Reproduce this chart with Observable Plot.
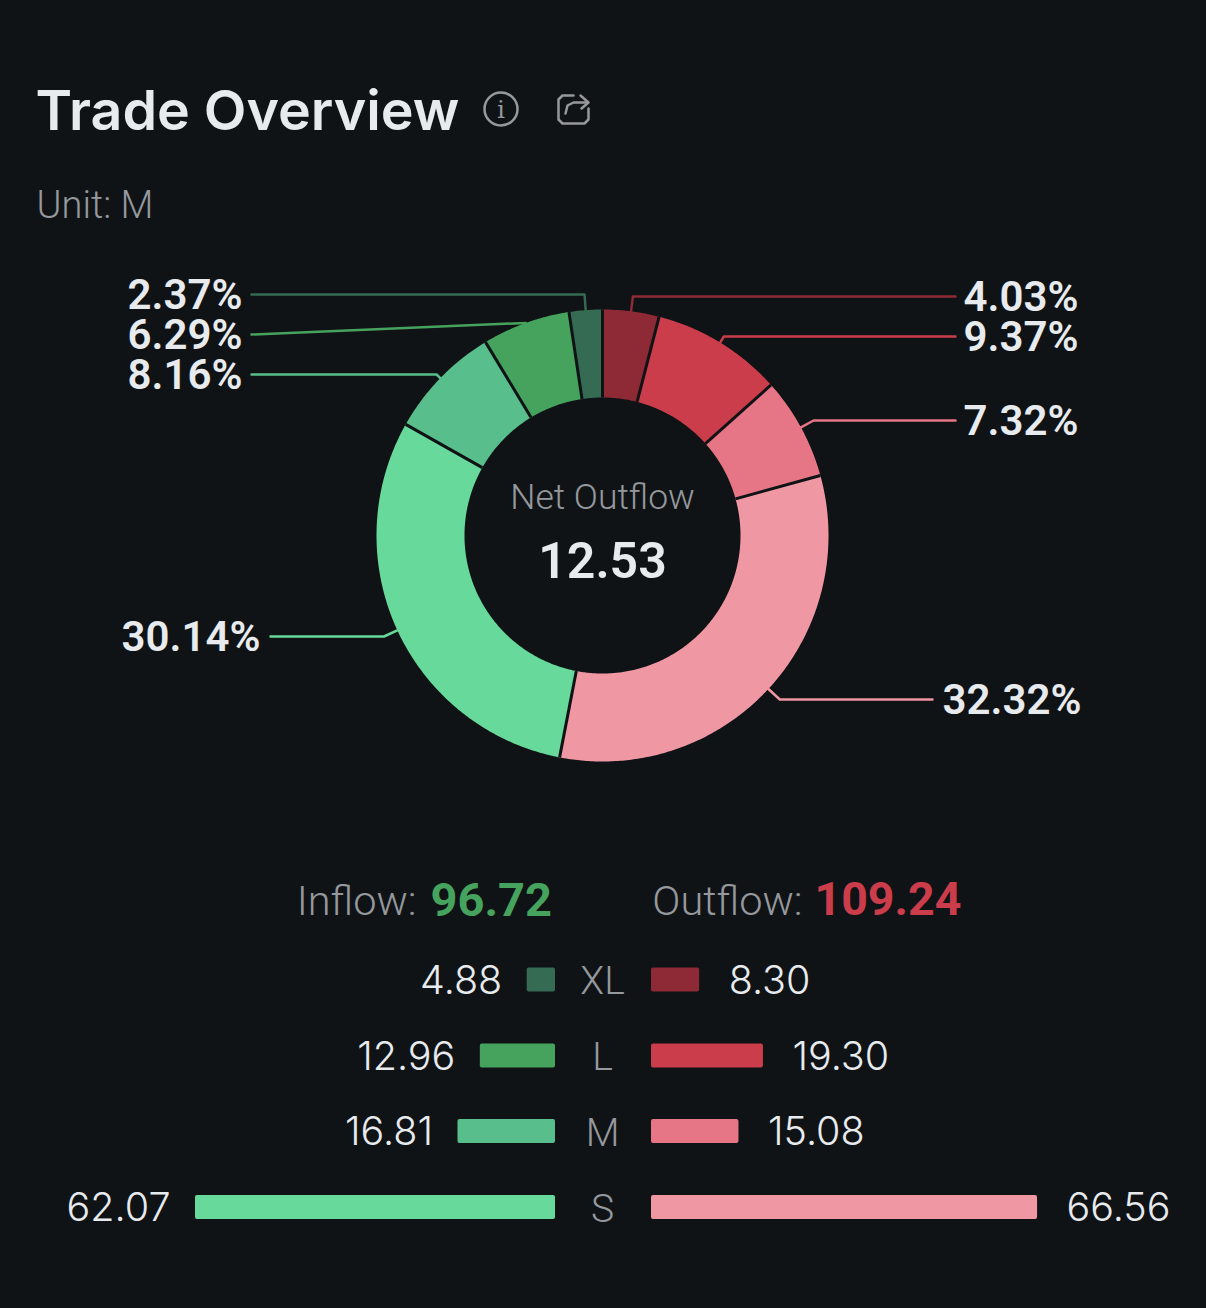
<!DOCTYPE html>
<html>
<head>
<meta charset="utf-8">
<script src="https://cdn.jsdelivr.net/npm/d3@7"></script>
<script src="https://cdn.jsdelivr.net/npm/@observablehq/plot@0.6"></script>
<style>
html,body{margin:0;padding:0;background:#101316}
svg{display:block}
</style>
</head>
<body>
<div id="chart"></div>
<script>
// ---- data ----
const sizes = ["XL","L","M","S"];
const inflowValues = [4.88,12.96,16.81,62.07];
const outflowValues = [8.30,19.30,15.08,66.56];
const sliceLabels = ["4.03%","9.37%","7.32%","32.32%","30.14%","8.16%","6.29%","2.37%"];
const sliceShares = [4.03,9.37,7.32,32.32,30.14,8.16,6.29,2.37];
const sliceColors = ["#8e2a35","#cc3d4c","#e67585","#f097a4","#66d99b","#58bf8c","#46a35d","#356b52"];
const inflowColors = ["#356b52","#46a35d","#58bf8c","#66d99b"];
const outflowColors = ["#8e2a35","#cc3d4c","#e67585","#f097a4"];
const totalInflow = "96.72", totalOutflow = "109.24", netOutflow = "12.53";

// ---- layout (pixels of the page, converted into the plot's value space) ----
const W = 1206, H = 1308, cx = 602, cy = 535, k = 5.8;
const X = p => (p - cx) / k, Y = p => (cy - p) / k;
const R = 226 / k, r0 = 138 / k;
const BG = "#101316", WHITE = "#e8ebee", GREY = "#95989c";
const NUM = "Roboto", HEAD = "Inter";
const labelY = [296,336,420,699,636,374,334,294];
const lineEnd = [955,955,955,932,270,251,251,251];
const labelX = [963,963,963,942,260,242,242,242];
const straight = [false,false,false,false,false,false,true,false];
const rowY = [979.5,1055.5,1131,1207];
const rowH = 24, gapL = 47 / k, gapR = 49 / k;

// ---- donut geometry derived from the values ----
const total = d3.sum(sliceShares);
let acc = 0;
const slices = sliceShares.map((v,i) => {
  const a0 = acc / total * 2 * Math.PI; acc += v;
  const a1 = acc / total * 2 * Math.PI;
  return {i, a0, a1, mid:(a0+a1)/2};
});
const polar = (a, rad) => [rad*Math.sin(a), rad*Math.cos(a)];
const ring = slices.flatMap(s => {
  const n = Math.max(8, Math.ceil((s.a1-s.a0)/0.01));
  const as = d3.range(n+1).map(j => s.a0 + (s.a1-s.a0)*j/n);
  return [...as.map(a => polar(a,R)), ...as.reverse().map(a => polar(a,r0))]
    .map(([x,y]) => ({x,y,i:s.i}));
});
const dividers = slices.map(s => {
  const [x1,y1] = polar(s.a0,r0), [x2,y2] = polar(s.a0,R);
  return {x1,y1,x2,y2};
});
const leaders = slices.flatMap(s => {
  const i = s.i, [ax,ay] = polar(s.mid,R), ly = Y(labelY[i]);
  const pts = [[ax,ay]];
  if (!straight[i]) pts.push([ly*Math.tan(s.mid), ly]);
  pts.push([X(lineEnd[i]), ly]);
  return pts.map(([x,y]) => ({x,y,i}));
});
const pctLabels = slices.map(s => ({x:X(labelX[s.i]), y:Y(labelY[s.i]), t:sliceLabels[s.i], right:labelX[s.i] > cx}));
const pctStyle = {x:"x",y:"y",text:"t",lineAnchor:"middle",fontFamily:NUM,fontSize:42,fontWeight:600,fill:WHITE,dy:1};

// ---- rows ----
const rows = sizes.map((s,i) => ({s,i,y1:Y(rowY[i]-rowH/2),y2:Y(rowY[i]+rowH/2),y:Y(rowY[i]),inV:inflowValues[i],outV:outflowValues[i]}));
const numGapL = 25 / k, numGapR = 29 / k;

// ---- small icons ----
const shareIcon = [
  [[573,95],[562,95],[558,99],[558,119],[562,123],[584,123],[588,119],[588,108]],
  [[565,113],[567,105],[573,102],[587,102]],
  [[580,95],[588,102],[581,108]]
].flatMap((p,g) => p.map(([x,y]) => ({x:X(x),y:Y(y),g})));

const T = (txt,px,py,o) => Plot.text([txt],{x:()=>X(px),y:()=>Y(py),text:d=>d,lineAnchor:"middle",...o});

const plot = Plot.plot({
  width:W, height:H, margin:0,
  style:{background:BG},
  x:{domain:[X(0),X(W)],range:[0,W],axis:null},
  y:{domain:[Y(0),Y(H)],range:[0,H],axis:null},
  marks:[
    // header
    T("Trade Overview",35,112,{textAnchor:"start",fontFamily:HEAD,fontSize:55.5,fontWeight:600,fill:WHITE}),
    T("Unit: M",36,205,{textAnchor:"start",fontFamily:NUM,fontSize:38,fontWeight:300,fill:GREY}),
    Plot.dot([0],{x:()=>X(500.5),y:()=>Y(108.5),r:16.5,stroke:GREY,strokeWidth:2.5,fill:"none"}),
    T("i",500.5,109.5,{fontFamily:"DejaVu Serif",fontSize:25,fontWeight:400,fill:GREY}),
    Plot.line(shareIcon,{x:"x",y:"y",z:"g",stroke:GREY,strokeWidth:2.5,curve:"linear"}),
    // donut
    Plot.line(ring,{x:"x",y:"y",z:"i",fill:d=>sliceColors[d.i],stroke:"none",curve:"linear-closed"}),
    Plot.link(dividers,{x1:"x1",y1:"y1",x2:"x2",y2:"y2",stroke:BG,strokeWidth:3}),
    Plot.line(leaders,{x:"x",y:"y",z:"i",stroke:d=>sliceColors[d.i],strokeWidth:2.5,fill:"none"}),
    Plot.text(pctLabels.filter(d=>d.right),{...pctStyle,textAnchor:"start"}),
    Plot.text(pctLabels.filter(d=>!d.right),{...pctStyle,textAnchor:"end"}),
    T("Net Outflow",602,497,{fontFamily:NUM,fontSize:35.5,fontWeight:300,fill:GREY}),
    T(netOutflow,602,561,{fontFamily:NUM,fontSize:50,fontWeight:600,fill:WHITE}),
    // totals
    T("Inflow:",416,901,{textAnchor:"end",fontFamily:NUM,fontSize:41.5,fontWeight:300,fill:GREY}),
    T(totalInflow,430,900,{textAnchor:"start",fontFamily:NUM,fontSize:47,fontWeight:700,fill:"#46a35d"}),
    T("Outflow:",802,901,{textAnchor:"end",fontFamily:NUM,fontSize:41.5,fontWeight:300,fill:GREY}),
    T(totalOutflow,814,900,{textAnchor:"start",fontFamily:NUM,fontSize:46.5,fontWeight:700,fill:"#cc3d4c"}),
    // rows
    Plot.rect(rows,{x1:d=>-gapL-d.inV,x2:-gapL,y1:"y1",y2:"y2",fill:d=>inflowColors[d.i],rx:2}),
    Plot.rect(rows,{x1:gapR,x2:d=>gapR+d.outV,y1:"y1",y2:"y2",fill:d=>outflowColors[d.i],rx:2}),
    Plot.text(rows,{x:0,y:"y",text:"s",lineAnchor:"middle",fontFamily:NUM,fontSize:39,fontWeight:300,fill:GREY,dy:2}),
    Plot.text(rows,{x:d=>-gapL-d.inV-numGapL,y:"y",text:d=>d.inV.toFixed(2),textAnchor:"end",lineAnchor:"middle",fontFamily:"Inter",fontSize:39.5,fontWeight:300,fill:WHITE,dy:1}),
    Plot.text(rows,{x:d=>gapR+d.outV+numGapR,y:"y",text:d=>d.outV.toFixed(2),textAnchor:"start",lineAnchor:"middle",fontFamily:"Inter",fontSize:39.5,fontWeight:300,fill:WHITE,dy:1})
  ]
});
document.getElementById("chart").append(plot);
</script>
</body>
</html>
